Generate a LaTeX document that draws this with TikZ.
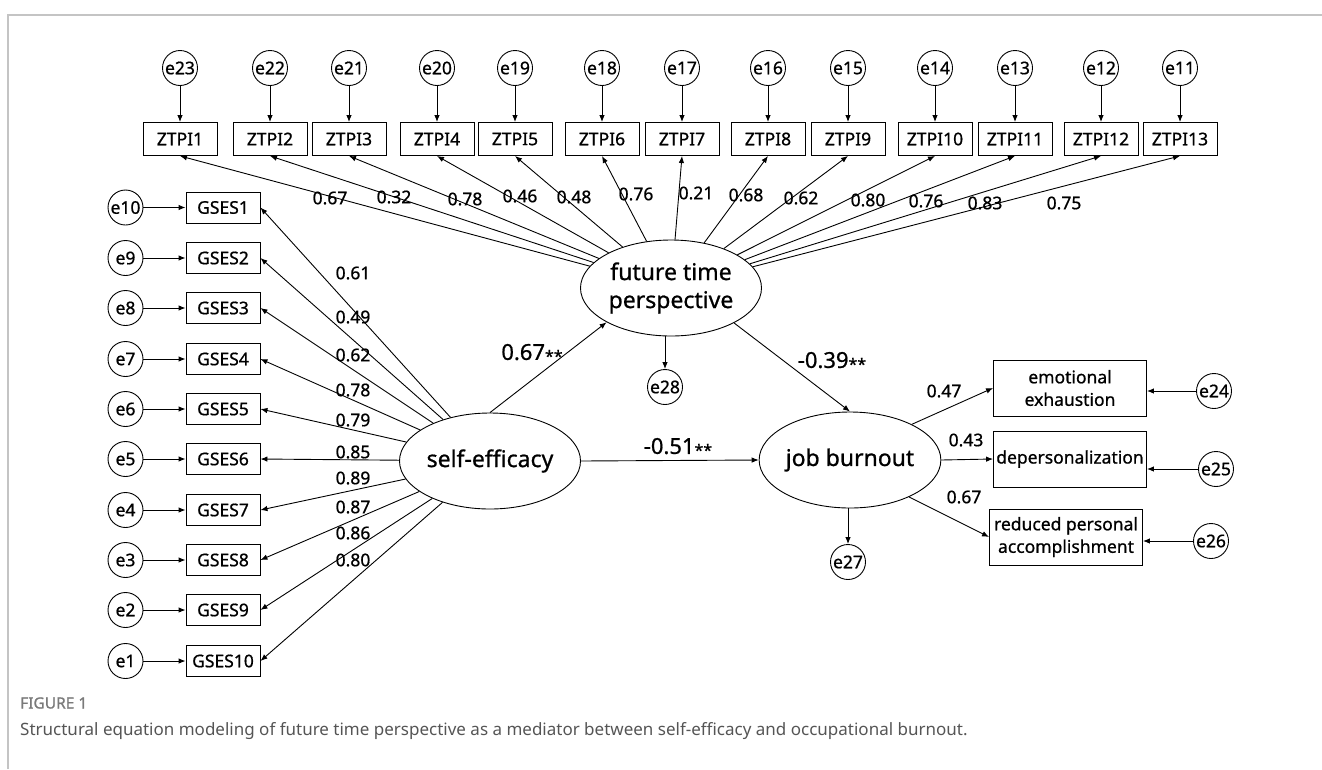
\documentclass[tikz,border=0pt]{standalone}
\usepackage{fontspec}
\setmainfont{Noto Sans}
\newfontfamily\dg[FakeBold=0.8]{Noto Sans}
\newfontfamily\capf[FakeBold=1.2]{Noto Sans}
\usetikzlibrary{arrows.meta,shapes.geometric}
\definecolor{framegray}{HTML}{C4C4C4}
\definecolor{capgray}{HTML}{555555}
\definecolor{figgray}{HTML}{7A7A7A}
\begin{document}
\begin{tikzpicture}[x=1pt,y=-1pt,
  err/.style={draw, circle, minimum size=35pt, inner sep=0pt, line width=0.9pt, font=\dg\fontsize{17.5}{17.5}\selectfont},
  obs/.style={draw, rectangle, minimum width=74pt, minimum height=33pt, inner sep=0pt, line width=0.9pt, font=\dg\fontsize{17.5}{17.5}\selectfont},
  big/.style={draw, rectangle, minimum width=153pt, minimum height=56pt, inner sep=0pt, line width=0.9pt, align=center, font=\dg\fontsize{17.5}{22.5}\selectfont},
  lat/.style={draw, ellipse, minimum width=181pt, minimum height=96pt, inner sep=0pt, line width=0.9pt, align=center, font=\dg\fontsize{23}{28}\selectfont},
  arr/.style={-{Latex[length=7pt,width=5.5pt]}, line width=0.9pt},
  lbl/.style={inner sep=0pt, font=\dg\fontsize{17.5}{17.5}\selectfont},
  coef/.style={inner sep=0pt, font=\dg\fontsize{22}{22}\selectfont}
]
\useasboundingbox (0,0) rectangle (1322,769);
\newcommand{\stars}{{\fontsize{16}{16}\selectfont\raisebox{-0.25ex}{**}}}
% frame
\draw[framegray, line width=1.6pt] (8,769) -- (8,15) -- (1322,15);

% latent variables
\node[lat] (ftp) at (671,288) {future time\\perspective};
\node[lat] (se) at (490,461) {self-efficacy};
\node[lat] (jb) at (850,460) {job burnout};

% ZTPI row
\foreach \i/\x/\e/\v/\lx/\ly in {
  1/180/23/0.67/330/198, 2/270/22/0.32/394/197, 3/349/21/0.78/465/199,
  4/437/20/0.46/520/196, 5/515/19/0.48/574/197, 6/602/18/0.76/636/194,
  7/682/17/0.21/696/193, 8/768/16/0.68/746/195, 9/848/15/0.62/801/198,
  10/935/14/0.80/868/200, 11/1015/13/0.76/926/201, 12/1101/12/0.83/985/203,
  13/1180/11/0.75/1064/203}{
  \node[err] (e\e) at (\x,68) {e\e};
  \node[obs] (z\i) at (\x,139) {ZTPI\i};
  \draw[arr] (e\e) -- (z\i);
  \draw[arr] (ftp) -- (z\i.south);
  \node[lbl] (lz\i) at (\lx,\ly) {\v};
}

% GSES column
\foreach \i/\y/\e/\v/\ly in {
  1/207.5/10/0.61/273, 2/258/9/0.49/317, 3/308/8/0.62/355, 4/359/7/0.78/390,
  5/409/6/0.79/420, 6/459/5/0.85/452, 7/510/4/0.89/478, 8/560/3/0.87/507,
  9/610/2/0.86/533, 10/661/1/0.80/560}{
  \node[err] (e\e) at (125.5,\y) {e\e};
  \node[obs, minimum height=31pt] (g\i) at (223,\y) {GSES\i};
  \draw[arr] (e\e) -- (g\i);
  \draw[arr] (se) -- (g\i.east);
  \node[lbl] (lg\i) at (353,\ly) {\v};
}

% structural paths
\draw[arr] (se.north) -- (ftp.208);
\draw[arr] (ftp.331) -- (jb.north);
\draw[arr] (se.east) -- (jb.west);
\node[coef] (c1) at (532,353) {0.67\stars};
\node[coef] (c2) at (832,361) {-0.39\stars};
\node[coef] (c3) at (678,447) {-0.51\stars};

% disturbances
\node[err] (e28) at (665,387) {e28};
\node[err] (e27) at (848,562) {e27};
\draw[arr] (ftp.south -| e28) -- (e28);
\draw[arr] (jb.south -| e27) -- (e27);

% burnout indicators
\node[big] (ee) at (1070,388) {emotional\\exhaustion};
\node[big] (dp) at (1070,459) {depersonalization};
\node[big] (rpa) at (1066,537) {reduced personal\\accomplishment};
\draw[arr] (jb.30) -- (ee.west);
\draw[arr] (jb.east) -- (dp.west);
\draw[arr] (jb.328) -- (rpa.west);
\node[lbl] (l47) at (944,391) {0.47};
\node[lbl] (l43) at (966,440) {0.43};
\node[lbl] (l67) at (964,497) {0.67};

\node[err] (e24) at (1214,391) {e24};
\node[err] (e25) at (1216,469) {e25};
\node[err] (e26) at (1211,541) {e26};
\draw[arr] (e24) -- (e24 -| ee.east);
\draw[arr] (e25) -- (e25 -| dp.east);
\draw[arr] (e26) -- (e26 -| rpa.east);

% caption
\node[anchor=west, inner sep=0pt, text=figgray, font=\capf\fontsize{15.5}{15.5}\selectfont] (fig) at (20,703) {FIGURE 1};
\node[anchor=west, inner sep=0pt, text=capgray, font=\fontsize{17}{17}\selectfont] (cap) at (20,731) {Structural equation modeling of future time perspective as a mediator between self-efficacy and occupational burnout.};
\end{tikzpicture}
\end{document}
